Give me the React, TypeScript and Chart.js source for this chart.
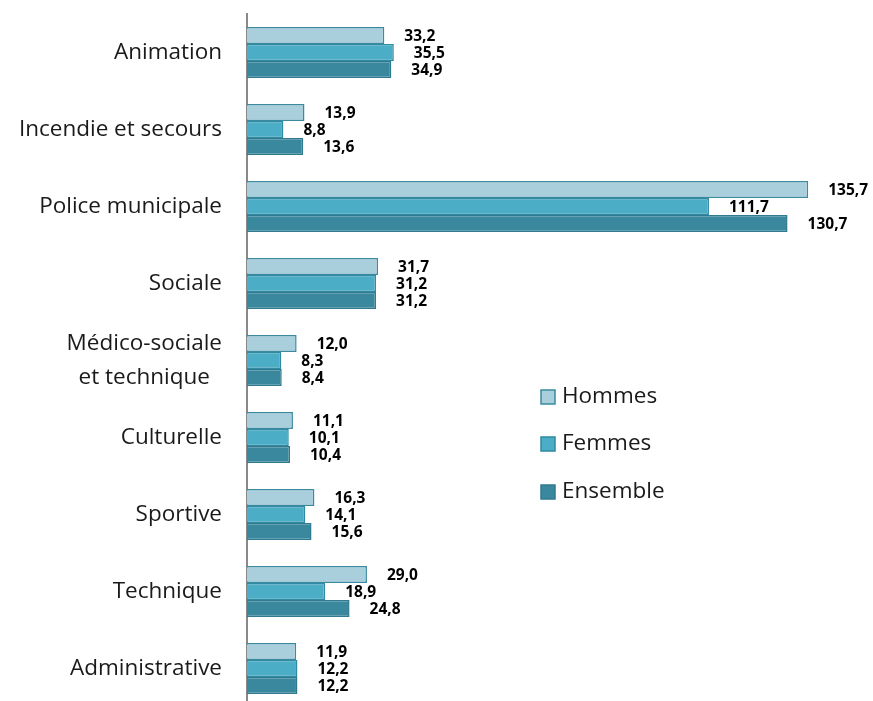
import React, { useEffect, useRef } from "react";
import { Chart, registerables } from "chart.js";

Chart.register(...registerables);

const categories: (string | string[])[] = [
  "Animation",
  "Incendie et secours",
  "Police municipale",
  "Sociale",
  ["Médico-sociale", "et technique"],
  "Culturelle",
  "Sportive",
  "Technique",
  "Administrative",
];
const hommes = [33.2, 13.9, 135.7, 31.7, 12.0, 11.1, 16.3, 29.0, 11.9];
const femmes = [35.5, 8.8, 111.7, 31.2, 8.3, 10.1, 14.1, 18.9, 12.2];
const ensemble = [34.9, 13.6, 130.7, 31.2, 8.4, 10.4, 15.6, 24.8, 12.2];
const seriesNames = ["Hommes", "Femmes", "Ensemble"];
const fills = ["#a9cfdc", "#4badc6", "#3a889e"];
const borders = ["#3a8aa0", "#2f8aa3", "#2f7a8f"];

const FONT = "'Open Sans', sans-serif";

const fmt = (v: number) => v.toFixed(1).replace(".", ",");

const customPlugin = {
  id: "custom",
  afterDraw(chart: any) {
    const ctx = chart.ctx;
    const area = chart.chartArea;
    const yScale = chart.scales.y;
    ctx.save();
    // category labels
    ctx.fillStyle = "#1a1a1a";
    ctx.font = `22.5px ${FONT}`;
    ctx.textBaseline = "middle";
    ctx.textAlign = "center";
    categories.forEach((c, i) => {
      const lines = Array.isArray(c) ? c : [c];
      const y = yScale.getPixelForValue(i);
      const maxW = Math.max(...lines.map((l) => ctx.measureText(l).width));
      const right = area.left - 25;
      const cx = right - maxW / 2;
      lines.forEach((l, j) => {
        ctx.fillText(l, cx, y + (j - (lines.length - 1) / 2) * 34);
      });
    });
    // data labels
    ctx.font = `bold 15.5px ${FONT}`;
    ctx.textAlign = "left";
    ctx.fillStyle = "#000";
    chart.data.datasets.forEach((ds: any, di: number) => {
      const meta = chart.getDatasetMeta(di);
      meta.data.forEach((el: any, i: number) => {
        ctx.fillText(fmt(ds.data[i]), el.x + 20, el.y + 1);
      });
    });
    // legend
    ctx.font = `22.5px ${FONT}`;
    ctx.textBaseline = "middle";
    const ys = [397, 444, 492];
    seriesNames.forEach((n, i) => {
      ctx.fillStyle = fills[i];
      ctx.strokeStyle = borders[i];
      ctx.lineWidth = 1.5;
      ctx.fillRect(541, ys[i] - 7, 14, 14);
      ctx.strokeRect(541, ys[i] - 7, 14, 14);
      ctx.fillStyle = "#1a1a1a";
      ctx.fillText(n, 562, ys[i]);
    });
    ctx.restore();
  },
};

export default function App() {
  const ref = useRef<HTMLCanvasElement>(null);
  useEffect(() => {
    if (!ref.current) return;
    const data = [hommes, femmes, ensemble];
    const chart = new Chart(ref.current, {
      type: "bar",
      data: {
        labels: categories as any,
        datasets: seriesNames.map((n, i) => ({
          label: n,
          data: data[i],
          backgroundColor: fills[i],
          borderColor: borders[i],
          borderWidth: 1.5,
          barPercentage: 1,
          categoryPercentage: 0.66,
        })),
      },
      options: {
        indexAxis: "y",
        responsive: false,
        animation: false,
        devicePixelRatio: 1,
        layout: { padding: { left: 247, right: 47, top: 14, bottom: 0 } },
        plugins: { legend: { display: false }, tooltip: { enabled: false } },
        scales: {
          x: { display: false, min: 0, max: 140 },
          y: {
            ticks: { display: false },
            grid: { display: false, drawTicks: false },
            border: { display: true, color: "#898989", width: 2 },
          },
        },
      },
      plugins: [customPlugin],
    });
    return () => chart.destroy();
  }, []);
  return (
    <div style={{ position: "fixed", left: 0, top: 0, width: 873, height: 701, overflow: "hidden", background: "#fff" }}>
      <canvas ref={ref} width={873} height={707} style={{ display: "block" }} />
    </div>
  );
}
